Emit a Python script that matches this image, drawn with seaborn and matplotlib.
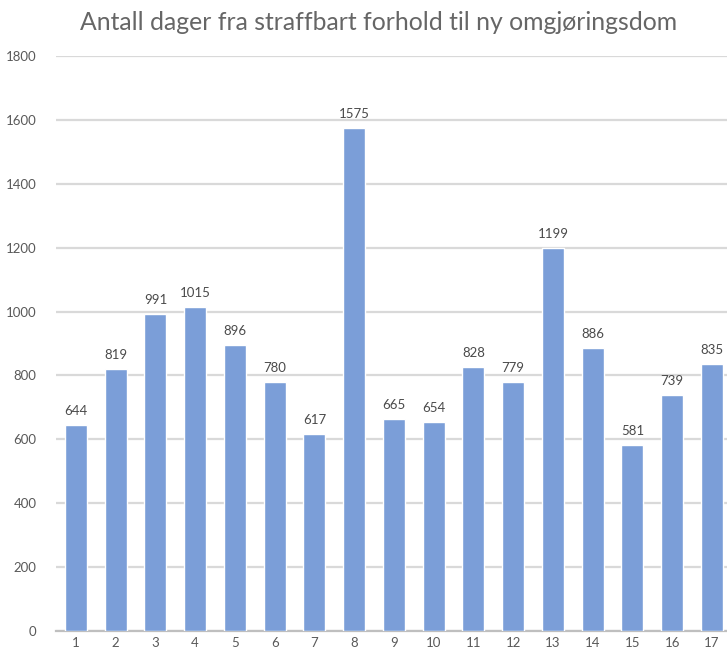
import numpy as np
import pandas as pd
import matplotlib
matplotlib.use('Agg')
import matplotlib.pyplot as plt
import seaborn as sns

# Data
saker = ['1', '2', '3', '4', '5', '6', '7', '8', '9', '10',
         '11', '12', '13', '14', '15', '16', '17']
dager = [644, 819, 991, 1015, 896, 780, 617, 1575, 665, 654,
         828, 779, 1199, 886, 581, 739, 835]
y_ticks = [0, 200, 400, 600, 800, 1000, 1200, 1400, 1600, 1800]

df = pd.DataFrame({'sak': saker, 'dager': dager})

sns.set_style('white')
plt.rcParams['font.family'] = ['Lato', 'DejaVu Sans']

fig = plt.figure(figsize=(7.27, 6.52), dpi=100)
ax = fig.add_axes([56 / 727, 21 / 652, 1 - 56 / 727, 575 / 652])

sns.barplot(data=df, x='sak', y='dager', color='#7b9ed8', saturation=1,
            width=0.55, ax=ax, zorder=3)

# value labels on top of bars
for p, v in zip(ax.patches, dager):
    ax.text(p.get_x() + p.get_width() / 2, v + 25, str(v),
            ha='center', va='bottom', fontsize=9.5, color='#4a4a4a')

ax.set_ylim(0, 1800)
ax.set_xlim(-0.5, 16.38)
ax.set_yticks(y_ticks)
ax.yaxis.grid(True, color='#d9d9d9', linewidth=1.6, zorder=0)
ax.set_axisbelow(True)

for s in ['top', 'right', 'left']:
    ax.spines[s].set_visible(False)
ax.spines['bottom'].set_color('#bfbfbf')
ax.spines['bottom'].set_linewidth(1.6)

ax.tick_params(axis='both', length=0, labelsize=9.5, labelcolor='#595959')
ax.tick_params(axis='y', pad=14)
ax.tick_params(axis='x', pad=4)
ax.set_xlabel('')
ax.set_ylabel('')

fig.text(0.5 + 15 / 727, 1 - 22 / 652, 'Antall dager fra straffbart forhold til ny omgjøringsdom',
         ha='center', va='center', fontsize=17.8, color='#666666')

plt.savefig('out.png', dpi=100)
